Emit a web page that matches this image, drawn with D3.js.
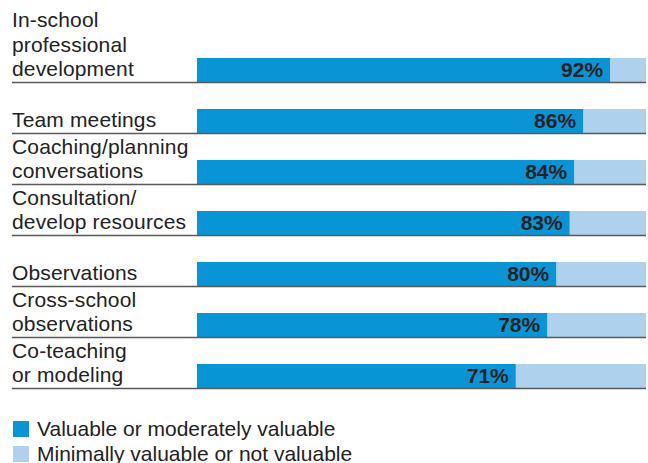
<!DOCTYPE html>
<html>
<head>
<meta charset="utf-8">
<script src="https://cdn.jsdelivr.net/npm/d3@7/dist/d3.min.js"></script>
<style>
  html, body { margin: 0; padding: 0; background: #fff; }
  svg { display: block; }
  text { font-family: "Liberation Sans", Arial, Helvetica, sans-serif; }
</style>
</head>
<body>
<svg id="chart" width="648" height="463"></svg>
<script>
// Categories (label lines) and shares of respondents rating each activity
const categories = [
  "In-school professional development",
  "Team meetings",
  "Coaching/planning conversations",
  "Consultation/ develop resources",
  "Observations",
  "Cross-school observations",
  "Co-teaching or modeling"
];
const labelLines = [
  ["In-school", "professional", "development"],
  ["Team meetings"],
  ["Coaching/planning", "conversations"],
  ["Consultation/", "develop resources"],
  ["Observations"],
  ["Cross-school", "observations"],
  ["Co-teaching", "or modeling"]
];
const valuable = [92, 86, 84, 83, 80, 78, 71];
const notValuable = valuable.map(v => 100 - v);
const seriesNames = ["Valuable or moderately valuable", "Minimally valuable or not valuable"];
const colors = ["#0895d6", "#aed1ee"];

const svg = d3.select("#chart");

const x = d3.scaleLinear().domain([0, 100]).range([197, 646]);
const y = d3.scaleBand().domain(categories).range([31, 388]).paddingInner(0).paddingOuter(0);
const barH = 24;
const barTop = c => y(c) + y.step() - barH;
const barBottom = c => y(c) + y.step();

const rows = categories.map((c, i) => ({
  cat: c, lines: labelLines[i], v: valuable[i], n: notValuable[i]
}));

const g = svg.append("g");

// light (remainder) segment
g.selectAll("rect.rest").data(rows).join("rect")
  .attr("class", "rest")
  .attr("x", d => x(d.v))
  .attr("y", d => barTop(d.cat))
  .attr("width", d => x(d.v + d.n) - x(d.v))
  .attr("height", barH)
  .attr("fill", colors[1]);

// main segment
g.selectAll("rect.main").data(rows).join("rect")
  .attr("class", "main")
  .attr("x", x(0))
  .attr("y", d => barTop(d.cat))
  .attr("width", d => x(d.v) - x(0))
  .attr("height", barH)
  .attr("fill", colors[0]);

// rule under each row
g.selectAll("line.rule").data(rows).join("line")
  .attr("class", "rule")
  .attr("x1", 12).attr("x2", x(100))
  .attr("y1", d => barBottom(d.cat) + 0.5)
  .attr("y2", d => barBottom(d.cat) + 0.5)
  .attr("stroke", "#5a5a5a")
  .attr("stroke-width", 1.6);

// category labels, bottom line sits just above the rule
const lbl = g.selectAll("text.cat").data(rows).join("text")
  .attr("class", "cat")
  .attr("x", 12)
  .attr("font-size", 21)
  .attr("letter-spacing", 0.15)
  .attr("fill", "#222");
lbl.each(function(d) {
  const t = d3.select(this);
  const n = d.lines.length;
  d.lines.forEach((line, k) => {
    t.append("tspan")
      .attr("x", 12)
      .attr("y", barBottom(d.cat) - 6 - (n - 1 - k) * 24.5)
      .text(line);
  });
});

// value labels inside the main segment
g.selectAll("text.val").data(rows).join("text")
  .attr("class", "val")
  .attr("x", d => x(d.v) - 7)
  .attr("y", d => barBottom(d.cat) - 5)
  .attr("text-anchor", "end")
  .attr("font-size", 21)
  .attr("font-weight", "bold")
  .attr("fill", "#222")
  .text(d => d.v + "%");

// legend
const leg = svg.append("g").selectAll("g").data(seriesNames).join("g")
  .attr("transform", (d, i) => `translate(13, ${421 + i * 25})`);
leg.append("rect")
  .attr("width", 16).attr("height", 16)
  .attr("fill", (d, i) => colors[i]);
leg.append("text")
  .attr("x", 24).attr("y", 14.5)
  .attr("font-size", 21)
  .attr("fill", "#222")
  .text(d => d);
</script>
</body>
</html>
